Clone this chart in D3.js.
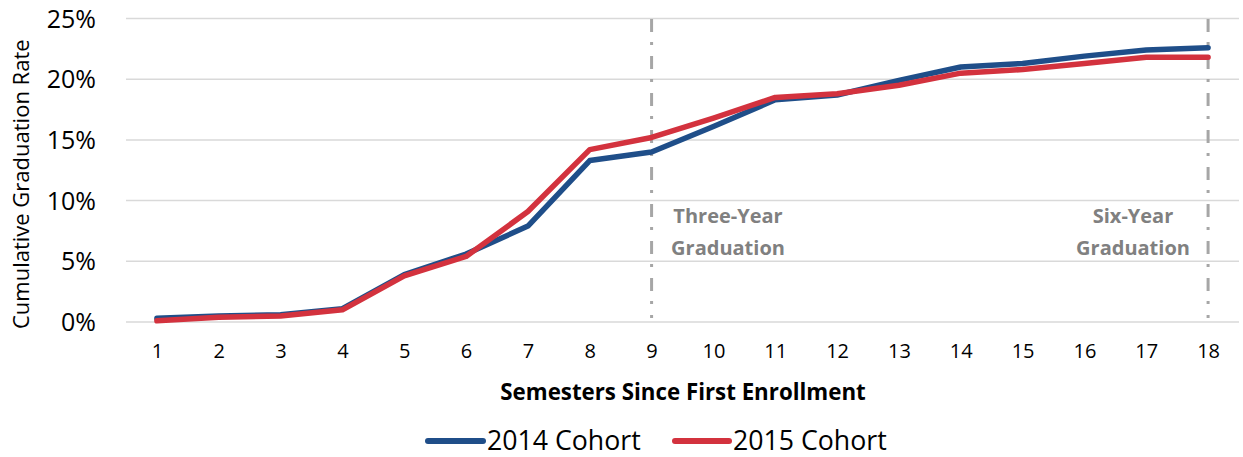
<!DOCTYPE html>
<html>
<head>
<meta charset="utf-8">
<script src="https://cdn.jsdelivr.net/npm/d3@7"></script>
<style>
  html, body { margin: 0; padding: 0; background: #fff; }
  svg { display: block; font-family: "Open Sans", "Noto Sans", sans-serif; }
</style>
</head>
<body>
<svg id="chart" width="1243" height="457"></svg>
<script>
const semesters = [1,2,3,4,5,6,7,8,9,10,11,12,13,14,15,16,17,18];
const cohort2014 = [0.3,0.5,0.6,1.1,3.9,5.6,7.9,13.3,14.0,16.1,18.3,18.7,19.9,21.0,21.3,21.9,22.4,22.6];
const cohort2015 = [0.1,0.4,0.5,1.0,3.8,5.4,9.1,14.2,15.2,16.8,18.5,18.8,19.5,20.5,20.8,21.3,21.8,21.8];
const yTicks = [0,5,10,15,20,25];
const seriesNames = ["2014 Cohort","2015 Cohort"];
const seriesColors = ["#1F4E89","#D3323E"];
const markers = [
  {semester: 9, lines: ["Three-Year","Graduation"], cx: 728},
  {semester: 18, lines: ["Six-Year","Graduation"], cx: 1133}
];

const svg = d3.select("#chart");
const pLeft = 126, pRight = 1239, pTop = 18.5, pBottom = 322;

const x = d3.scalePoint().domain(semesters).range([pLeft, pRight]).padding(0.5);
const y = d3.scaleLinear().domain([0, 25]).range([pBottom, pTop]);

// gridlines
svg.append("g").selectAll("line").data(yTicks).join("line")
  .attr("x1", pLeft).attr("x2", pRight)
  .attr("y1", d => y(d)).attr("y2", d => y(d))
  .attr("stroke", "#d9d9d9").attr("stroke-width", 1.5);

// y axis labels
const yAxis = svg.append("g").attr("transform", `translate(${pLeft - 30},0)`)
  .call(d3.axisLeft(y).tickValues(yTicks).tickFormat(d => d + "%").tickSize(0).tickPadding(0));
yAxis.select(".domain").remove();
yAxis.selectAll("text").attr("font-size", 25).attr("fill", "#000")
  .attr("font-family", "'Open Sans', sans-serif").attr("dy", "0.34em");

// x axis labels
const xAxis = svg.append("g").attr("transform", `translate(0,${pBottom})`)
  .call(d3.axisBottom(x).tickSize(0).tickPadding(22));
xAxis.select(".domain").remove();
xAxis.selectAll("text").attr("font-size", 20).attr("fill", "#000")
  .attr("font-family", "'Open Sans', sans-serif");

// marker lines
svg.append("g").selectAll("line").data(markers).join("line")
  .attr("x1", d => x(d.semester)).attr("x2", d => x(d.semester))
  .attr("y1", 19).attr("y2", 318)
  .attr("stroke", "#a6a6a6").attr("stroke-width", 3)
  .attr("stroke-dasharray", "13,10,3,11");

// annotation texts
const ann = svg.append("g").selectAll("text").data(markers).join("text")
  .attr("text-anchor", "middle")
  .attr("font-size", 20).attr("font-weight", "bold").attr("fill", "#808080");
ann.each(function(d) {
  const t = d3.select(this);
  d.lines.forEach((ln, i) => {
    t.append("tspan").attr("x", d.cx).attr("y", 223 + i * 32).text(ln);
  });
});

// lines
const line = d3.line().x((d, i) => x(semesters[i])).y(d => y(d));
[cohort2014, cohort2015].forEach((s, k) => {
  svg.append("path").datum(s)
    .attr("d", line)
    .attr("fill", "none")
    .attr("stroke", seriesColors[k])
    .attr("stroke-width", 5.5)
    .attr("stroke-linejoin", "round")
    .attr("stroke-linecap", "round");
});

// axis titles
svg.append("text")
  .attr("transform", `translate(29,${(pTop + pBottom) / 2 + 14}) rotate(-90)`)
  .attr("text-anchor", "middle").attr("font-size", 22).attr("fill", "#000")
  .text("Cumulative Graduation Rate");

svg.append("text")
  .attr("x", 683).attr("y", 400)
  .attr("text-anchor", "middle").attr("font-size", 22.3).attr("font-weight", "bold").attr("fill", "#000")
  .text("Semesters Since First Enrollment");

// legend
const legendItems = [
  {x1: 428, x2: 483, tx: 487},
  {x1: 675, x2: 729, tx: 733}
];
const lg = svg.append("g");
legendItems.forEach((it, k) => {
  lg.append("line").attr("x1", it.x1).attr("x2", it.x2).attr("y1", 441).attr("y2", 441)
    .attr("stroke", seriesColors[k]).attr("stroke-width", 6).attr("stroke-linecap", "round");
  lg.append("text").attr("x", it.tx).attr("y", 450)
    .attr("font-size", 26.7).attr("fill", "#000").text(seriesNames[k]);
});
</script>
</body>
</html>
